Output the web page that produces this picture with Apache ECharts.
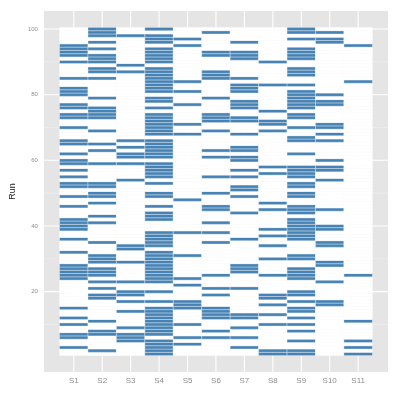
<!DOCTYPE html>
<html>
<head>
<meta charset="utf-8">
<script src="https://cdn.jsdelivr.net/npm/echarts@6/dist/echarts.min.js"></script>
<style>
  html, body { margin: 0; padding: 0; background: #fff; }
  #chart { width: 399px; height: 399px; }
</style>
</head>
<body>
<div id="chart"></div>
<script>
// samples on the x axis
var samples = ['S1', 'S2', 'S3', 'S4', 'S5', 'S6', 'S7', 'S8', 'S9', 'S10', 'S11'];
var runCount = 100;

// runs marked for each sample
var runsS1 = [95, 94, 93, 92, 90, 85, 82, 81, 80, 77, 76, 74, 73, 70, 66, 65, 62, 60, 59, 57, 55, 53, 52, 49, 46, 42, 41, 40, 39, 36, 32, 28, 27, 26, 25, 24, 15, 12, 10, 7, 6, 3];
var runsS2 = [100, 99, 98, 96, 94, 92, 91, 90, 88, 87, 85, 79, 76, 75, 74, 73, 69, 65, 63, 59, 53, 52, 50, 49, 47, 43, 41, 35, 31, 30, 29, 27, 26, 25, 23, 21, 19, 18, 11, 8, 7, 2];
var runsS3 = [98, 89, 87, 66, 64, 62, 61, 59, 54, 34, 33, 29, 23, 20, 19, 17, 14, 9, 7, 6, 5];
var runsS4 = [100, 98, 97, 96, 94, 93, 92, 91, 90, 88, 87, 86, 85, 84, 83, 82, 81, 79, 78, 76, 74, 73, 72, 71, 70, 69, 68, 66, 65, 64, 63, 62, 61, 59, 58, 57, 56, 55, 53, 50, 49, 46, 44, 43, 42, 38, 37, 36, 35, 34, 32, 31, 30, 29, 28, 27, 26, 25, 24, 23, 20, 17, 15, 14, 13, 12, 11, 10, 9, 8, 7, 5, 4, 3, 2, 1];
var runsS5 = [97, 95, 84, 81, 77, 71, 68, 48, 38, 31, 24, 22, 17, 16, 15, 10, 6, 4];
var runsS6 = [99, 93, 92, 87, 86, 85, 79, 74, 73, 72, 69, 63, 61, 55, 50, 46, 45, 41, 38, 35, 25, 21, 19, 15, 14, 13, 12, 8, 6];
var runsS7 = [96, 93, 92, 91, 85, 83, 82, 81, 78, 77, 76, 73, 72, 68, 64, 63, 61, 60, 57, 55, 52, 51, 49, 44, 36, 28, 27, 26, 21, 13, 12, 9, 6, 3];
var runsS8 = [90, 83, 75, 72, 71, 69, 58, 56, 47, 45, 39, 37, 34, 30, 25, 19, 18, 16, 13, 10, 2, 1];
var runsS9 = [100, 99, 97, 94, 93, 92, 91, 88, 87, 86, 83, 81, 80, 79, 78, 77, 76, 74, 73, 70, 67, 66, 62, 58, 57, 56, 55, 53, 52, 50, 49, 46, 45, 44, 42, 41, 40, 39, 38, 37, 36, 31, 30, 27, 26, 25, 24, 20, 19, 17, 15, 14, 12, 10, 8, 5, 2, 1];
var runsS10 = [99, 97, 96, 80, 78, 77, 71, 70, 68, 66, 60, 58, 57, 54, 45, 40, 39, 35, 34, 29, 28, 23, 17, 16];
var runsS11 = [95, 84, 25, 11, 5, 3, 1];

var yTicks = [20, 40, 60, 80, 100];
var yMinor = [10, 30, 50, 70, 90];

var allRuns = [runsS1, runsS2, runsS3, runsS4, runsS5, runsS6, runsS7, runsS8, runsS9, runsS10, runsS11];

// one tile per sample and run: 1 = marked, 0 = empty
var tiles = [];
for (var i = 0; i < samples.length; i++) {
  for (var r = 1; r <= runCount; r++) {
    tiles.push([i + 1, r, allRuns[i].indexOf(r) >= 0 ? 1 : 0]);
  }
}

var xPos = samples.map(function (s, i) { return i + 1; });

// panel grid lines: [0 = horizontal / 1 = vertical, value, major?]
var gridLines = [];
yTicks.forEach(function (v) { gridLines.push([0, v, 1]); });
yMinor.forEach(function (v) { gridLines.push([0, v, 0]); });
xPos.forEach(function (v) { gridLines.push([1, v, 1]); });

function renderGridLine(params, api) {
  var vertical = api.value(0) === 1, v = api.value(1);
  var cs = params.coordSys;
  var a;
  if (vertical) {
    a = api.coord([v, 0]);
    return {
      type: 'line',
      shape: { x1: a[0], y1: cs.y, x2: a[0], y2: cs.y + cs.height },
      style: { stroke: '#ffffff', lineWidth: 1.1 }
    };
  }
  a = api.coord([0, v]);
  return {
    type: 'line',
    shape: { x1: cs.x, y1: a[1], x2: cs.x + cs.width, y2: a[1] },
    style: { stroke: api.value(2) ? '#ffffff' : '#f2f2f2', lineWidth: api.value(2) ? 1.1 : 0.5 }
  };
}

function renderTile(params, api) {
  var x = api.value(0), y = api.value(1);
  var p0 = api.coord([x - 0.5, y + 0.5]);
  var p1 = api.coord([x + 0.5, y - 0.5]);
  return {
    type: 'rect',
    shape: { x: p0[0], y: p0[1], width: p1[0] - p0[0], height: p1[1] - p0[1] },
    style: {
      fill: api.value(2) ? '#4682B4' : '#ffffff',
      stroke: 'rgba(255,255,255,0.7)',
      lineWidth: 0.5
    }
  };
}

var chart = echarts.init(document.getElementById('chart'));
var option = {
  animation: false,
  textStyle: { fontFamily: 'Liberation Sans' },
  grid: {
    left: 31, top: 11, right: 11, bottom: 27,
    show: true,
    backgroundColor: '#E5E5E5',
    borderWidth: 0
  },
  xAxis: {
    type: 'value',
    min: -0.05,
    max: 12.05,
    axisLine: { show: false },
    axisTick: { show: false },
    splitLine: { show: false },
    axisLabel: {
      customValues: xPos,
      margin: 5,
      fontSize: 8,
      color: '#8c8c8c',
      formatter: function (v) { return samples[Math.round(v) - 1] || ''; }
    }
  },
  yAxis: {
    type: 'value',
    min: -4.5,
    max: 105.5,
    name: 'Run',
    nameLocation: 'middle',
    nameGap: 18,
    nameTextStyle: { fontSize: 9, color: '#222' },
    axisLine: { show: false },
    axisTick: { show: false },
    splitLine: { show: false },
    axisLabel: {
      customValues: yTicks,
      margin: 6,
      fontSize: 6,
      color: '#8c8c8c'
    }
  },
  series: [
    {
      type: 'custom',
      z: 1,
      silent: true,
      renderItem: renderGridLine,
      data: gridLines
    },
    {
      type: 'custom',
      z: 2,
      silent: true,
      renderItem: renderTile,
      data: tiles
    }
  ]
};
chart.setOption(option);
</script>
</body>
</html>
